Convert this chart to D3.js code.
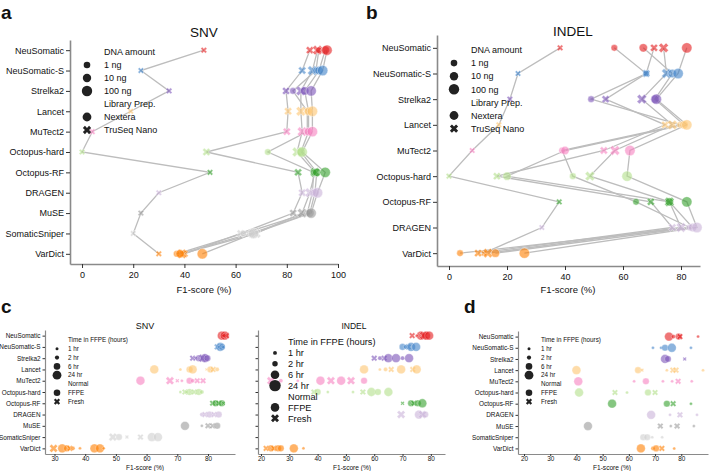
<!DOCTYPE html>
<html>
<head>
<meta charset="utf-8">
<script src="https://cdn.jsdelivr.net/npm/d3@7"></script>
<style>
  body { margin: 0; background: #fff; }
  svg { font-family: "Liberation Sans", Arial, sans-serif; }
</style>
</head>
<body>
<script>
// ---- data -------------------------------------------------------------
const tools = ["NeuSomatic","NeuSomatic-S","Strelka2","Lancet","MuTect2","Octopus-hard",
               "Octopus-RF","DRAGEN","MuSE","SomaticSniper","VarDict"];
const toolsIndel = ["NeuSomatic","NeuSomatic-S","Strelka2","Lancet","MuTect2","Octopus-hard",
                    "Octopus-RF","DRAGEN","VarDict"];
const toolColors = ["#e41a1c","#3f82c8","#7a52b8","#fdc46f","#f781bf","#b2df8a",
                    "#33a02c","#c9b2d9","#9a9a9a","#cfcfcf","#ff7f00"];

// panels a/b : one line per library (kit x DNA amount)
const sampleKit = ["TruSeq Nano","TruSeq Nano","TruSeq Nano","Nextera","Nextera","Nextera"];
const sampleNg  = [1, 10, 100, 1, 10, 100];
const snvF1 = [
  [47.6, 23, 34, 19, 4, 0, 50, 30, 23, 20, 30],
  [89, 86, 79.7, 80.5, 80, 48.6, 84.4, 86, 82.5, 62, 40],
  [92, 90, 85.5, 85.5, 86, 84, 91, 89, 86, 68, 39],
  [92.5, 91.4, 82.4, 88, 88, 72.6, 90.5, 90, 88, 63, 37],
  [95, 92.6, 87, 88.5, 88.5, 85.5, 91.7, 91, 89, 66, 38.3],
  [95.7, 94, 89.5, 90, 90, 86, 95, 92, 89.5, 67, 47]
];
const indelF1 = [
  [38.3, 23.8, 21, 17.2, 8, 0, 38, 32, 12],
  [70.7, 68, 54, 74.5, 53.4, 16.5, 69.6, 77, 10],
  [74, 75, 66.5, 77, 57.2, 48.6, 76, 80, 13.4],
  [57, 68, 49, 79.7, 39, 42.7, 64.5, 83, 3.8],
  [67, 77, 71, 81, 40, 20, 76, 84, 16],
  [82, 79, 71.5, 82, 62.4, 61.4, 82, 85.5, 26]
];

// panels c/d : [tool, F1, hours in FFPE, normal (F = FFPE, R = fresh)]
const ffpeSnv = [
  ["NeuSomatic",84.5,24,"F"],["NeuSomatic",85,6,"F"],["NeuSomatic",85.5,24,"F"],["NeuSomatic",86,6,"R"],["NeuSomatic",85.2,2,"F"],
  ["NeuSomatic-S",83,6,"R"],["NeuSomatic-S",84,24,"F"],["NeuSomatic-S",84.5,6,"F"],["NeuSomatic-S",85,2,"R"],["NeuSomatic-S",83.5,1,"F"],
  ["Strelka2",75,6,"R"],["Strelka2",77,6,"F"],["Strelka2",78.3,24,"R"],["Strelka2",79,24,"F"],["Strelka2",79.8,6,"F"],["Strelka2",76,2,"R"],
  ["Lancet",62.5,24,"F"],["Lancet",71,1,"F"],["Lancet",74,6,"F"],["Lancet",75,24,"F"],["Lancet",80.8,6,"F"],["Lancet",81.7,6,"R"],["Lancet",83,2,"F"],["Lancet",79.5,1,"R"],
  ["MuTect2",58,24,"F"],["MuTect2",67.6,24,"R"],["MuTect2",70,2,"R"],["MuTect2",71.5,1,"F"],["MuTect2",74,6,"F"],["MuTect2",76.5,6,"R"],["MuTect2",78.4,6,"R"],["MuTect2",75,2,"F"],
  ["Octopus-hard",71,1,"F"],["Octopus-hard",72.5,6,"R"],["Octopus-hard",74,6,"F"],["Octopus-hard",75.5,6,"R"],["Octopus-hard",77,6,"F"],["Octopus-hard",78,2,"F"],["Octopus-hard",73,2,"R"],
  ["Octopus-RF",81.5,6,"R"],["Octopus-RF",82.5,6,"F"],["Octopus-RF",83.5,6,"R"],["Octopus-RF",84.5,6,"F"],["Octopus-RF",85,2,"R"],
  ["DRAGEN",78,2,"F"],["DRAGEN",79,6,"R"],["DRAGEN",80.5,6,"F"],["DRAGEN",82,6,"R"],["DRAGEN",83.5,6,"F"],
  ["MuSE",72.5,24,"F"],["MuSE",78,1,"F"],["MuSE",80,6,"R"],["MuSE",81.5,6,"R"],["MuSE",83,6,"F"],
  ["SomaticSniper",49,24,"R"],["SomaticSniper",51,6,"F"],["SomaticSniper",53.6,2,"R"],["SomaticSniper",58,6,"R"],["SomaticSniper",61.7,24,"F"],["SomaticSniper",63.7,24,"F"],
  ["VarDict",29.7,24,"R"],["VarDict",32.5,24,"F"],["VarDict",34,6,"F"],["VarDict",35,6,"R"],["VarDict",36,2,"F"],["VarDict",38.3,1,"F"],["VarDict",43,24,"F"],["VarDict",44.8,24,"F"],["VarDict",46,1,"F"]
];
const ffpeIndel = [
  ["NeuSomatic",73.4,6,"R"],["NeuSomatic",76.5,24,"F"],["NeuSomatic",77.5,24,"R"],["NeuSomatic",78.3,24,"F"],["NeuSomatic",79.4,24,"F"],["NeuSomatic",75,1,"F"],
  ["NeuSomatic-S",70,6,"F"],["NeuSomatic-S",72,6,"R"],["NeuSomatic-S",73,24,"F"],["NeuSomatic-S",74.8,24,"F"],["NeuSomatic-S",71,2,"F"],
  ["Strelka2",60,6,"R"],["Strelka2",63.5,6,"R"],["Strelka2",65,24,"F"],["Strelka2",67.7,24,"F"],["Strelka2",72.3,24,"F"],["Strelka2",62,2,"F"],["Strelka2",70,2,"F"],
  ["Lancet",56.4,24,"F"],["Lancet",62,1,"F"],["Lancet",64,2,"F"],["Lancet",66,6,"R"],["Lancet",69.5,24,"F"],["Lancet",73.6,6,"R"],["Lancet",75,24,"F"],
  ["MuTect2",23.5,24,"R"],["MuTect2",27,2,"F"],["MuTect2",33,1,"F"],["MuTect2",41,24,"F"],["MuTect2",44.7,24,"R"],["MuTect2",48.3,24,"F"],["MuTect2",51.8,24,"R"],["MuTect2",56.4,6,"F"],
  ["Octopus-hard",38.7,6,"R"],["Octopus-hard",40,6,"F"],["Octopus-hard",43.6,1,"F"],["Octopus-hard",52.5,1,"F"],["Octopus-hard",56,6,"R"],["Octopus-hard",59,24,"F"],["Octopus-hard",61.3,6,"F"],["Octopus-hard",65,24,"F"],
  ["Octopus-RF",70,2,"R"],["Octopus-RF",73,6,"F"],["Octopus-RF",74,6,"R"],["Octopus-RF",75.4,6,"F"],["Octopus-RF",77,24,"F"],
  ["DRAGEN",69.5,24,"R"],["DRAGEN",75.8,24,"F"],["DRAGEN",77,24,"R"],["DRAGEN",78,6,"F"],
  ["VarDict",21.8,6,"R"],["VarDict",23.5,6,"F"],["VarDict",24.5,6,"R"],["VarDict",26,6,"F"],["VarDict",27,6,"F"],["VarDict",31.6,24,"F"],["VarDict",35,1,"F"]
];
const panelD = [
  ["NeuSomatic",75.3,24,"F"],["NeuSomatic",77,2,"F"],["NeuSomatic",79,6,"F"],["NeuSomatic",79.5,6,"R"],["NeuSomatic",86.4,1,"F"],
  ["NeuSomatic-S",69.2,1,"F"],["NeuSomatic-S",72.3,1,"F"],["NeuSomatic-S",73.8,6,"F"],["NeuSomatic-S",76.4,24,"F"],["NeuSomatic-S",83.7,1,"F"],
  ["Strelka2",73.8,24,"F"],["Strelka2",74.9,6,"F"],["Strelka2",81.3,2,"R"],
  ["Lancet",40,24,"F"],["Lancet",63.5,6,"F"],["Lancet",65,2,"R"],["Lancet",74.5,1,"F"],["Lancet",76.8,6,"R"],["Lancet",78,6,"R"],["Lancet",88.3,1,"F"],
  ["MuTect2",40.7,24,"F"],["MuTect2",62,1,"F"],["MuTect2",66.5,6,"F"],["MuTect2",73,1,"F"],["MuTect2",76.5,1,"F"],["MuTect2",78.8,6,"R"],["MuTect2",84,1,"F"],
  ["Octopus-hard",41,24,"F"],["Octopus-hard",54.7,6,"R"],["Octopus-hard",59.3,1,"F"],["Octopus-hard",67.3,6,"F"],["Octopus-hard",70,6,"R"],
  ["Octopus-RF",53.6,24,"F"],["Octopus-RF",74.5,6,"F"],["Octopus-RF",76.9,6,"R"],["Octopus-RF",83.7,1,"F"],
  ["DRAGEN",68.5,24,"F"],["DRAGEN",75.7,1,"F"],["DRAGEN",79.5,6,"R"],["DRAGEN",86,1,"F"],
  ["MuSE",44.4,24,"F"],["MuSE",72,6,"R"],["MuSE",76,1,"F"],["MuSE",78.4,6,"R"],["MuSE",84.8,1,"F"],
  ["SomaticSniper",65.5,6,"F"],["SomaticSniper",67,6,"F"],["SomaticSniper",68.9,1,"F"],["SomaticSniper",72.7,1,"F"],
  ["VarDict",64.6,24,"F"],["VarDict",69.2,2,"F"],["VarDict",70.4,6,"F"],["VarDict",72.6,6,"R"],["VarDict",77.3,1,"F"]
];

// ---- drawing ----------------------------------------------------------
const svg = d3.select("body").append("svg").attr("width", 709).attr("height", 471);
const color = d3.scaleOrdinal().domain(tools).range(toolColors);
const ngRadius = d3.scaleOrdinal().domain([1,10,100]).range([3.3, 4.2, 5.2]);
const hrRadius = d3.scaleOrdinal().domain([1,2,6,24]).range([1.5, 2.1, 3.3, 4.4]);

function marker(r, cross){
  return d3.symbol().type(cross ? d3.symbolCross : d3.symbolCircle)
    .size(cross ? r*r*2.2 : Math.PI*r*r)();
}

function styleAxis(g, fs){
  g.select(".domain").attr("stroke", "#8a8a8a").attr("stroke-width", fs > 8 ? 1.6 : 1.2);
  g.selectAll(".tick line").attr("stroke", "#333");
  g.selectAll(".tick text").attr("font-size", fs).attr("fill", "#111")
    .attr("font-family", "Liberation Sans, Arial, sans-serif");
}

function drawAxes(cats, xDomain, xRange, yRange, ticks, fs, showLabels){
  const x = d3.scaleLinear().domain(xDomain).range(xRange);
  const y = d3.scalePoint().domain(cats).range(yRange).padding(0.5);
  const big = fs > 8;
  svg.append("g").attr("transform", `translate(${xRange[0]},0)`)
    .call(d3.axisLeft(y).tickSize(big ? 4 : 2.5).tickSizeOuter(0).tickPadding(2)
      .tickFormat(showLabels ? d => d : ""))
    .call(styleAxis, fs);
  svg.append("g").attr("transform", `translate(0,${yRange[1]})`)
    .call(d3.axisBottom(x).tickValues(ticks).tickSize(big ? 4 : 2).tickSizeOuter(0).tickPadding(big ? 4 : 0.5))
    .call(styleAxis, fs);
  return {x, y};
}

function label(txt, x, y, fs, opts={}){
  svg.append("text").attr("x", x).attr("y", y).attr("font-size", fs)
    .attr("text-anchor", opts.anchor || "start")
    .attr("font-weight", opts.bold ? "bold" : null)
    .attr("fill", "#111").text(txt);
}

// line panels (a, b)
function linePanel(cats, values, xDomain, xRange, yRange, ticks){
  const {x, y} = drawAxes(cats, xDomain, xRange, yRange, ticks, 9, true);
  const series = values.map((vals, s) =>
    vals.map((v, i) => ({tool: cats[i], v, kit: sampleKit[s], ng: sampleNg[s]})));
  const line = d3.line().x(d => x(d.v)).y(d => y(d.tool));
  svg.append("g").selectAll("path").data(series).join("path")
    .attr("d", line).attr("fill", "none")
    .attr("stroke", "#bdbdbd").attr("stroke-width", 1.3);
  svg.append("g").selectAll("path").data(series.flat()).join("path")
    .attr("d", d => marker(ngRadius(d.ng), d.kit !== "Nextera"))
    .attr("transform", d => `translate(${x(d.v)},${y(d.tool)})` + (d.kit !== "Nextera" ? " rotate(45)" : ""))
    .attr("fill", d => color(d.tool)).attr("fill-opacity", 0.6)
    .attr("stroke", "#fff").attr("stroke-width", 0.4);
}

function ngLegend(mx, tx, y0, dy){
  const rows = [["DNA amount", null], ["1 ng", [3.3,false]], ["10 ng", [4.2,false]], ["100 ng", [5.2,false]],
                ["Library Prep.", null], ["Nextera", [4.4,false]], ["TruSeq Nano", [4.4,true]]];
  rows.forEach((r, i) => {
    const yy = y0 + i*dy;
    if (r[1]) svg.append("path").attr("d", marker(r[1][0], r[1][1]))
      .attr("transform", `translate(${mx},${yy})` + (r[1][1] ? " rotate(45)" : "")).attr("fill", "#222");
    label(r[0], tx, yy + 3.2, 9);
  });
}

function stripPanel(cats, points, xDomain, xRange, yRange, ticks, showLabels){
  const {x, y} = drawAxes(cats, xDomain, xRange, yRange, ticks, 6.4, showLabels);
  svg.append("g").selectAll("path").data(points).join("path")
    .attr("d", d => marker(hrRadius(d[2]), d[3] === "R"))
    .attr("transform", d => `translate(${x(d[1])},${y(d[0])})` + (d[3] === "R" ? " rotate(45)" : ""))
    .attr("fill", d => color(d[0])).attr("fill-opacity", 0.6)
    .attr("stroke", "#fff").attr("stroke-width", 0.3);
}

function hrLegend(mx, tx, y0, dy, fs, k){
  const rows = [["Time in FFPE (hours)", null], ["1 hr", [1.5,false]], ["2 hr", [2.1,false]], ["6 hr", [3.3,false]],
                ["24 hr", [4.4,false]], ["Normal", null], ["FFPE", [3.3,false]], ["Fresh", [3.3,true]]];
  rows.forEach((r, i) => {
    const yy = y0 + i*dy;
    if (r[1]) svg.append("path").attr("d", marker(r[1][0]*k, r[1][1]))
      .attr("transform", `translate(${mx},${yy})` + (r[1][1] ? " rotate(45)" : "")).attr("fill", "#222");
    label(r[0], tx, yy + fs*0.36, fs);
  });
}

// a
linePanel(tools, snvF1, [-4.7, 100], [70, 338], [40, 264], [0,20,40,60,80,100]);
ngLegend(87, 104, 52, 13);
label("SNV", 204, 37, 13.5, {anchor: "middle"});
label("F1-score (%)", 204, 293, 9.5, {anchor: "middle"});
label("a", 1, 19, 19, {bold: true});

// b
linePanel(toolsIndel, indelF1, [-4.14, 86.55], [437, 700], [35, 266], [0,20,40,60,80]);
ngLegend(454, 471, 50, 13.1);
label("INDEL", 573, 36, 13.5, {anchor: "middle"});
label("F1-score (%)", 568, 293, 9.5, {anchor: "middle"});
label("b", 366, 19, 19, {bold: true});

// c
stripPanel(tools, ffpeSnv, [26.9, 88.8], [45, 235], [330, 454], [30,40,50,60,70,80], true);
hrLegend(57, 68, 340, 8.8, 6.3, 1);
label("SNV", 145, 329, 9, {anchor: "middle"});
label("F1-score (%)", 145, 470, 6.6, {anchor: "middle"});

stripPanel(tools, ffpeIndel, [18.94, 85.0], [258, 445], [330, 454], [20,30,40,50,60,70,80], false);
hrLegend(275, 288, 342, 10.9, 9.2, 1.3);
label("INDEL", 354, 329, 8.5, {anchor: "middle"});
label("F1-score (%)", 352, 470, 6.6, {anchor: "middle"});
label("c", 1, 313, 19, {bold: true});

// d
stripPanel(tools, panelD, [17.7, 90.2], [518, 708], [331, 454], [20,30,40,50,60,70,80], true);
hrLegend(529, 541, 340, 8.8, 6.3, 1);
label("F1-score (%)", 612, 470, 6.6, {anchor: "middle"});
label("d", 464, 313, 19, {bold: true});
</script>
</body>
</html>
